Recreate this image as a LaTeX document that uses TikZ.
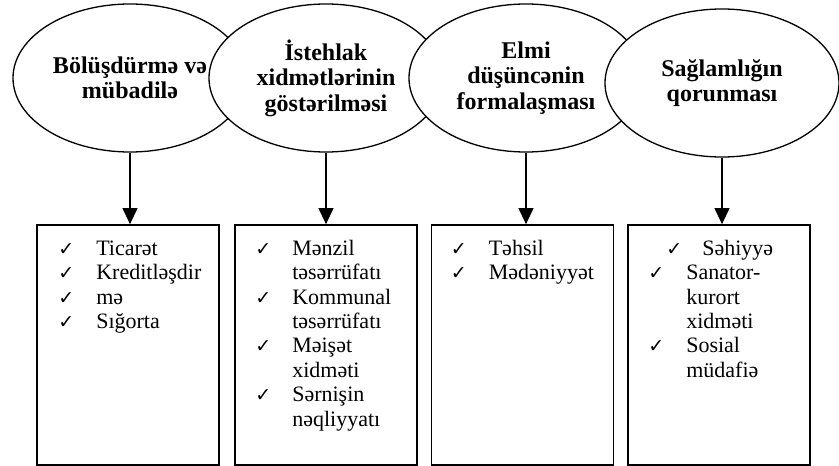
\documentclass[tikz,border=0pt]{standalone}
\usepackage{fontspec}
\setmainfont{Liberation Serif}
\newfontfamily\chkfont{DejaVu Sans}
\usetikzlibrary{shapes.geometric,arrows.meta,positioning}
\newcommand{\chk}{{\chkfont\fontsize{19}{19}\selectfont ✓}}
\tikzset{
  sector/.style={ellipse,draw,line width=1.3pt,fill=white,minimum width=234pt,minimum height=148pt,inner sep=0pt,align=center,font=\bfseries\fontsize{24}{25.5}\selectfont},
  branch/.style={draw,line width=1.8pt,minimum width=182pt,minimum height=240pt,inner sep=0pt},
  items/.style={anchor=north west,inner sep=0pt,font=\fontsize{22}{24.4}\selectfont},
  flow/.style={line width=1.3pt,-{Triangle[width=15pt,length=16pt]}}
}
\begin{document}
\begin{tikzpicture}[x=1pt,y=-1pt]
        \useasboundingbox (0,0) rectangle (839,466);
        % ellipses
        \node[sector] (e1) at (130,78) {Bölüşdürmə və\\mübadilə};
        \node[sector] (e2) at (326,78) {İstehlak\\xidmətlərinin\\göstərilməsi};
        \node[sector] (e3) at (526,78) {Elmi\\düşüncənin\\formalaşması};
        \node[sector] (e4) at (722,83) {Sağlamlığın\\qorunması};
        % boxes
        \node[branch] (b1) at (128,345) {};
        \node[branch] (b2) at (326,345) {};
        \node[branch] (b3) at (522.5,345) {};
        \node[branch] (b4) at (719,345) {};
        % lists
        \node[items] (l1) at ([xshift=22pt,yshift=-14pt]b1.north west) {\begin{tabular}{@{}p{38pt}@{}l@{}}
          \chk & Ticarət\\ \chk & Kreditləşdir\\ \chk & mə\\ \chk & Sığorta\end{tabular}};
        \node[items] (l2) at ([xshift=21pt,yshift=-14pt]b2.north west) {\begin{tabular}{@{}p{37pt}@{}l@{}}
          \chk & Mənzil\\ & təsərrüfatı\\ \chk & Kommunal\\ & təsərrüfatı\\
          \chk & Məişət\\ & xidməti\\ \chk & Sərnişin\\ & nəqliyyatı\end{tabular}};
        \node[items] (l3) at ([xshift=20pt,yshift=-14pt]b3.north west) {\begin{tabular}{@{}p{38pt}@{}l@{}}
          \chk & Təhsil\\ \chk & Mədəniyyət\end{tabular}};
        \node[items] (l4) at ([xshift=21pt,yshift=-14pt]b4.north west) {\begin{tabular}{@{}p{38pt}@{}l@{}}
          \hspace*{18pt}\chk & \hspace*{16pt}Səhiyyə\\ \chk & Sanator-\\ & kurort\\ & xidməti\\
          \chk & Sosial\\ & müdafiə\end{tabular}};
        % arrows
        \foreach \i in {1,...,4}
          \draw[flow] (e\i.south) -- (e\i.south |- b\i.north);
\end{tikzpicture}
\end{document}
